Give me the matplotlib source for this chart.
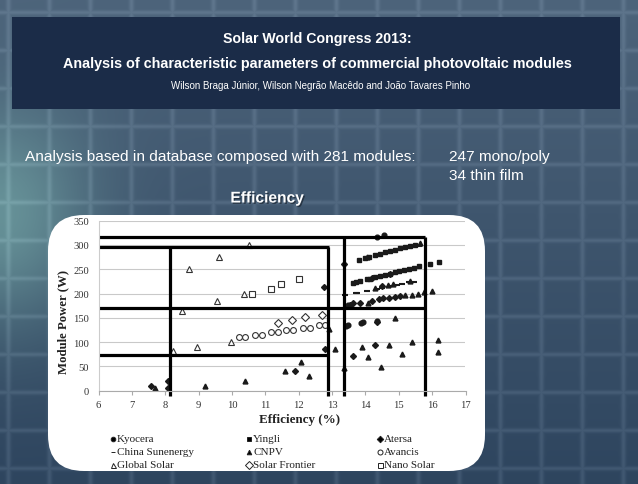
import numpy as np
import matplotlib
matplotlib.use('Agg')
import matplotlib.pyplot as plt
from matplotlib.patches import FancyBboxPatch, Rectangle
import matplotlib.patheffects as pe

# ---- data (efficiency %, module power W) ----
kyocera_x = [14.36, 14.56, 13.42, 13.48, 13.88, 13.94, 14.36, 13.48]
kyocera_y = [316, 320, 134, 136, 139, 141, 143, 176]

yingli_x = [13.82, 13.98, 14.12, 14.3, 14.45, 14.6, 14.75, 14.9, 15.05, 15.2, 15.35, 15.5,
            13.63, 13.72, 13.85, 14.05, 14.15, 14.3, 14.45, 14.6, 14.75, 14.9, 15.0, 15.15,
            15.3, 15.45, 15.6, 15.94, 16.2]
yingli_y = [270, 273, 276, 279, 282, 285, 287, 290, 293, 295, 298, 300,
            222, 224, 226, 229, 231, 234, 237, 239, 241, 244, 246, 249,
            251, 253, 256, 261, 265]

atersa_x = [7.57, 8.09, 8.09, 12.75, 12.78, 11.9, 13.36, 13.63, 14.3, 14.36, 13.63, 13.85,
            14.2, 14.42, 14.54, 14.72, 14.9, 15.03, 13.55, 14.2, 14.5, 14.75]
atersa_y = [10, 20, 5, 214, 86, 40, 261, 71, 95, 142, 181, 181,
            185, 188, 190, 191, 193, 196, 176, 232, 216, 240]

china_x = [13.38, 13.72, 13.76, 14.05, 14.35, 14.5, 14.75, 14.95, 15.09, 15.3, 15.45, 15.62]
china_y = [197, 201, 201, 205, 209, 212, 216, 218, 220, 223, 224, 297]

cnpv_x = [7.7, 9.19, 10.38, 11.58, 12.08, 12.3, 12.92, 13.1, 13.36, 13.9, 14.09, 14.48,
          14.7, 14.9, 15.09, 15.39, 15.99, 16.18, 16.18, 15.65, 14.09, 15.2, 15.39, 15.57,
          15.76, 14.3, 14.67, 14.84, 15.33, 14.05]
cnpv_y = [5, 10, 20, 40, 60, 30, 128, 85, 46, 90, 70, 49,
          95, 150, 76, 100, 205, 105, 80, 305, 180, 197, 198, 200,
          204, 211, 218, 220, 225, 276]

avancis_x = [10.22, 10.4, 10.68, 10.89, 11.17, 11.38, 11.63, 11.84, 12.12, 12.34, 12.6, 12.78]
avancis_y = [110, 110, 115, 115, 120, 120, 125, 125, 130, 130, 135, 135]

global_x = [10.5, 9.6, 8.7, 9.56, 8.5, 10.36, 8.24, 8.94, 9.98]
global_y = [300, 275, 250, 185, 164, 200, 82, 90, 100]

frontier_x = [11.39, 11.8, 12.2, 12.69]
frontier_y = [140, 145, 151, 156]

nano_x = [10.59, 11.17, 11.47, 12.02]
nano_y = [200, 210, 220, 230]

# thick guide lines drawn over the chart
h_lines = [(317, 6, 15.8), (296, 6, 12.9), (171, 6, 15.8), (74, 6, 12.9)]
v_lines = [(8.14, 296), (12.88, 296), (13.35, 317), (15.8, 317)]

xticks = list(range(6, 18))
yticks = list(range(0, 351, 50))

# ---- figure ----
W, H = 638, 485
fig = plt.figure(figsize=(W / 100, H / 100), dpi=100)
bg = fig.add_axes([0, 0, 1, 1])
bg.set_xlim(0, W)
bg.set_ylim(H, 0)
bg.axis('off')

# solar panel-ish background
yy, xx = np.mgrid[0:H, 0:W].astype(float)
top = np.array([0.30, 0.39, 0.48])
bot = np.array([0.18, 0.27, 0.37])
t = (yy / H)[..., None]
img = top * (1 - t) + bot * t
glow = np.exp(-((xx / 90.0) ** 2 + ((yy - 215) / 110.0) ** 2))[..., None]
img = img * (1 - 0.6 * glow) + np.array([0.50, 0.72, 0.70]) * 0.6 * glow
gx = np.exp(-(((xx + 12) % 41 - 20) / 2.5) ** 2)
gy = np.exp(-(((yy + 6) % 38 - 19) / 2.2) ** 2)
img = img + 0.07 * np.maximum(gx, gy)[..., None]
img = np.clip(img, 0, 1)
bg.imshow(img, extent=(0, W, H, 0), aspect='auto', zorder=0)

bg.add_patch(Rectangle((12, 18), 608, 92, facecolor='#1b2c48', edgecolor='none', zorder=1))
bg.text(317, 39, 'Solar World Congress 2013:', color='white', fontsize=10.2, fontweight='bold',
        ha='center', va='center', family='Liberation Sans', zorder=2)
bg.text(317, 64, 'Analysis of characteristic parameters of commercial photovoltaic modules',
        color='white', fontsize=10.4, fontweight='bold', ha='center', va='center',
        family='Liberation Sans', zorder=2)
bg.text(321, 86, 'Wilson Braga Júnior, Wilson Negrão Macêdo and João Tavares Pinho',
        color='white', fontsize=7.0, ha='center', va='center', family='Liberation Sans', zorder=2)

bg.text(25, 157, 'Analysis based in database composed with 281 modules:', color='white',
        fontsize=11.1, ha='left', va='center', family='Liberation Sans', zorder=2)
bg.text(449, 157, '247 mono/poly', color='white', fontsize=11.1, ha='left', va='center',
        family='Liberation Sans', zorder=2)
bg.text(449, 176, '34 thin film', color='white', fontsize=11.1, ha='left', va='center',
        family='Liberation Sans', zorder=2)
bg.text(267, 199, 'Efficiency', color='white', fontsize=11.2, fontweight='bold', ha='center',
        va='center', family='Liberation Sans', zorder=2,
        path_effects=[pe.withSimplePatchShadow(offset=(1, -1), shadow_rgbFace='#1a2430', alpha=0.7)])

bg.add_patch(FancyBboxPatch((48, 216), 437, 256, boxstyle='round,pad=0,rounding_size=36',
                            facecolor='white', edgecolor='none', zorder=1))

# legend (3 x 3, as in the picture)
leg = [('Kyocera', 'o', 'k', 113, 439.5), ('Yingli', 's', 'k', 249, 439.5), ('Atersa', 'D', 'k', 380, 439.5),
       ('China Sunenergy', '_', 'k', 113, 452.5), ('CNPV', '^', 'k', 249, 452.5), ('Avancis', 'o', 'none', 380, 452.5),
       ('Global Solar', '^', 'none', 113, 465.5), ('Solar Frontier', 'D', 'none', 249, 465.5), ('Nano Solar', 's', 'none', 380, 465.5)]
for name, mk, fc, lx, ly in leg:
    bg.plot([lx], [ly], marker=mk, ms=3.3 if fc == 'k' else 3.6, mfc=fc, mec='#222222',
            mew=0.7, ls='none', zorder=3)
    bg.text(lx + 4, ly, name, fontsize=8, family='Liberation Serif', color='#222222',
            ha='left', va='center', zorder=3)

bg.text(300, 420, 'Efficiency (%)', fontsize=9.4, fontweight='bold', family='Liberation Serif',
        color='#222222', ha='center', va='center', zorder=3)
bg.text(63, 322, 'Module Power (W)', fontsize=9.2, fontweight='bold', family='Liberation Serif',
        color='#222222', ha='center', va='center', rotation=90, zorder=3)

# ---- chart ----
ax = fig.add_axes([98.5 / W, 1 - 391.7 / H, 367 / W, 170 / H])
ax.patch.set_alpha(0)
ax.set_xlim(6, 17)
ax.set_ylim(0, 350)
ax.set_xticks(xticks)
ax.set_yticks(yticks)
ax.tick_params(axis='both', labelsize=7.6, labelcolor='#333333', colors='#aaaaaa', length=3)
ax.tick_params(axis='y', length=0, pad=7)
ax.tick_params(axis='x', pad=4)
for lab in ax.get_xticklabels() + ax.get_yticklabels():
    lab.set_family('Liberation Serif')
    lab.set_color('#333333')
ax.grid(axis='y', color='#c9c9c9', lw=0.8)
ax.set_axisbelow(True)
for s in ['top', 'right']:
    ax.spines[s].set_visible(False)
ax.spines['left'].set_color('#cccccc')
ax.spines['bottom'].set_color('#aaaaaa')

ax.plot(kyocera_x, kyocera_y, 'o', ms=3.4, color='#1a1a1a', ls='none')
ax.plot(yingli_x, yingli_y, 's', ms=3.2, color='#1a1a1a', ls='none')
ax.plot(atersa_x, atersa_y, 'D', ms=3.0, color='#1a1a1a', ls='none')
ax.plot(china_x, china_y, '_', ms=5, mew=1.5, color='#1a1a1a', ls='none')
ax.plot(cnpv_x, cnpv_y, '^', ms=3.5, color='#1a1a1a', ls='none')
ax.plot(avancis_x, avancis_y, 'o', ms=4.2, mfc='white', mec='#333333', mew=0.8, ls='none')
ax.plot(global_x, global_y, '^', ms=4.5, mfc='white', mec='#333333', mew=0.8, ls='none')
ax.plot(frontier_x, frontier_y, 'D', ms=4.2, mfc='white', mec='#333333', mew=0.8, ls='none')
ax.plot(nano_x, nano_y, 's', ms=4.0, mfc='white', mec='#333333', mew=0.8, ls='none')

for yv, x0, x1 in h_lines:
    ax.plot([x0, x1], [yv, yv], color='black', lw=2.3, solid_capstyle='butt', clip_on=False)
for xv, ytop in v_lines:
    ax.plot([xv, xv], [-10, ytop], color='black', lw=2.3, solid_capstyle='butt', clip_on=False)

fig.savefig('out.png', dpi=100)
